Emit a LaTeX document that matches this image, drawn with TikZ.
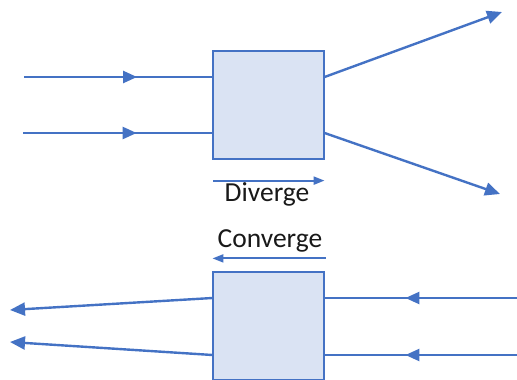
\documentclass[tikz,border=0pt]{standalone}
\usepackage{fontspec}
\setmainfont{Carlito}
\usepackage{xcolor}
\usepackage{tikz}
\usetikzlibrary{positioning,arrows.meta,decorations.markings}
\definecolor{flowblue}{HTML}{4472C4}
\definecolor{boxfill}{HTML}{DAE3F3}

\begin{document}
\begin{tikzpicture}[x=1pt, y=-1pt, every node/.style={font=\fontsize{27.5}{32}\selectfont, text=black!90},
    blockbox/.style={draw=flowblue, line width=1.2pt, fill=boxfill, minimum width=111pt, minimum height=108pt, inner sep=0pt},
    flow/.style={draw=flowblue, line width=2.4pt},
    tipend/.style={-{Triangle[length=15pt, width=13pt]}},
    labelarrow/.style={draw=flowblue, line width=2pt, -{Triangle[length=11pt, width=8pt]}},
    midtip/.style={postaction={decorate}, decoration={markings,
        mark=at position #1 with {\arrow[flowblue]{Triangle[length=14pt, width=12pt]}}}}]
   % Frame of the page
   \useasboundingbox (0,0) rectangle (517,380);

    % Diverge block
    \node[blockbox] (div) at (268.5,105) {};
    \coordinate (din1) at (24,77);
    \coordinate (din2) at (23,133);
    \coordinate (dout1) at (502,12);
    \coordinate (dout2) at (500,194);
    \draw[flow, midtip=0.6] (din1) -- (div.west |- din1);
    \draw[flow, midtip=0.6] (din2) -- (div.west |- din2);
    \draw[flow, tipend] (div.east |- din1) -- (dout1);
    \draw[flow, tipend] (div.east |- din2) -- (dout2);

    % Labels between the blocks
    \draw[labelarrow] (div.south west) ++(1,21) coordinate (dl) -- (dl -| div.east);
    \node (divtxt) at (267,194) {Diverge};
    \node (contxt) at (270,241) {Converge};

    % Converge block
    \node[blockbox] (con) at (268.5,326) {};
    \draw[labelarrow] (con.north east) ++(1,-13) coordinate (cl) -- (cl -| con.west);
    \coordinate (cin1) at (517,298);
    \coordinate (cin2) at (517,355);
    \coordinate (cout1) at (10,310);
    \coordinate (cout2) at (10,342);
    \draw[flow, midtip=0.58] (cin1) -- (con.east |- cin1);
    \draw[flow, midtip=0.58] (cin2) -- (con.east |- cin2);
    \draw[flow, tipend] (con.west |- cin1) -- (cout1);
    \draw[flow, tipend] (con.west |- cin2) -- (cout2);
\end{tikzpicture}
\end{document}
